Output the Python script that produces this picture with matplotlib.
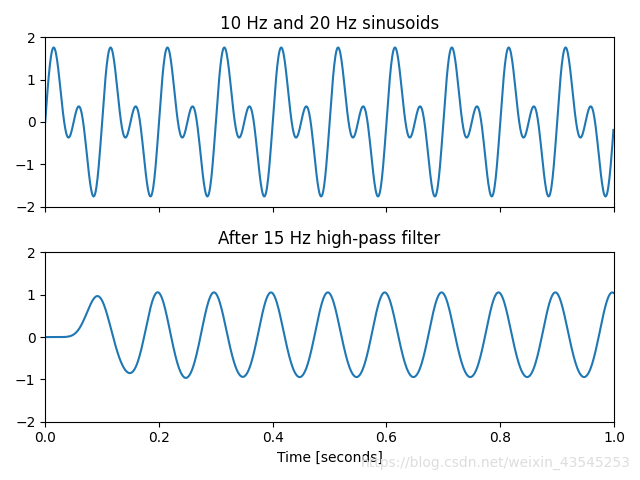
import numpy as np
import matplotlib
matplotlib.use("Agg")
import matplotlib.pyplot as plt

# Signal description
freqs_hz = [10, 20]          # sinusoid components
fs = 1000                    # samples per second
duration = 1.0               # seconds
cutoff_hz = 15               # filter cutoff
order = 10                   # Butterworth order
titles = ['10 Hz and 20 Hz sinusoids', 'After 15 Hz high-pass filter']
xlabel = 'Time [seconds]'

t = np.linspace(0, duration, int(fs * duration), False)
sig = sum(np.sin(2 * np.pi * f * t) for f in freqs_hz)

# Butterworth design (analog prototype -> bilinear); the plotted output keeps the 10 Hz tone
wc = 2 * fs * np.tan(np.pi * cutoff_hz / fs)
k = np.arange(order)
p_proto = np.exp(1j * np.pi * (2 * k + order + 1) / (2 * order))
p_a = wc * p_proto
fs2 = 2 * fs
p_d = (fs2 + p_a) / (fs2 - p_a)
upper = p_d[np.imag(p_d) > 0]
sections = []
for p in upper:
    b = np.array([1.0, 2.0, 1.0])
    a = np.array([1.0, -2 * p.real, abs(p) ** 2])
    g = a.sum() / b.sum()  # unity gain at DC
    sections.append((b * g, a))

def biquad(x, b, a):
    y = np.zeros_like(x)
    z1 = z2 = 0.0
    for n, xn in enumerate(x):
        yn = b[0] * xn + z1
        z1 = b[1] * xn - a[1] * yn + z2
        z2 = b[2] * xn - a[2] * yn
        y[n] = yn
    return y

filtered = sig.copy()
for b, a in sections:
    filtered = biquad(filtered, b, a)

fig, (ax1, ax2) = plt.subplots(2, 1, sharex=True, figsize=(6.4, 4.8), dpi=100)
ax1.plot(t, sig)
ax1.set_title(titles[0])
ax1.axis([0, 1, -2, 2])
ax2.plot(t, filtered)
ax2.set_title(titles[1])
ax2.axis([0, 1, -2, 2])
ax2.set_xlabel(xlabel)
plt.tight_layout()
fig.text(0.985, 0.02, 'https://blog.csdn.net/weixin_43545253', ha='right', va='bottom',
         color='#dddddd', fontsize=10)
fig.savefig('out.png')
